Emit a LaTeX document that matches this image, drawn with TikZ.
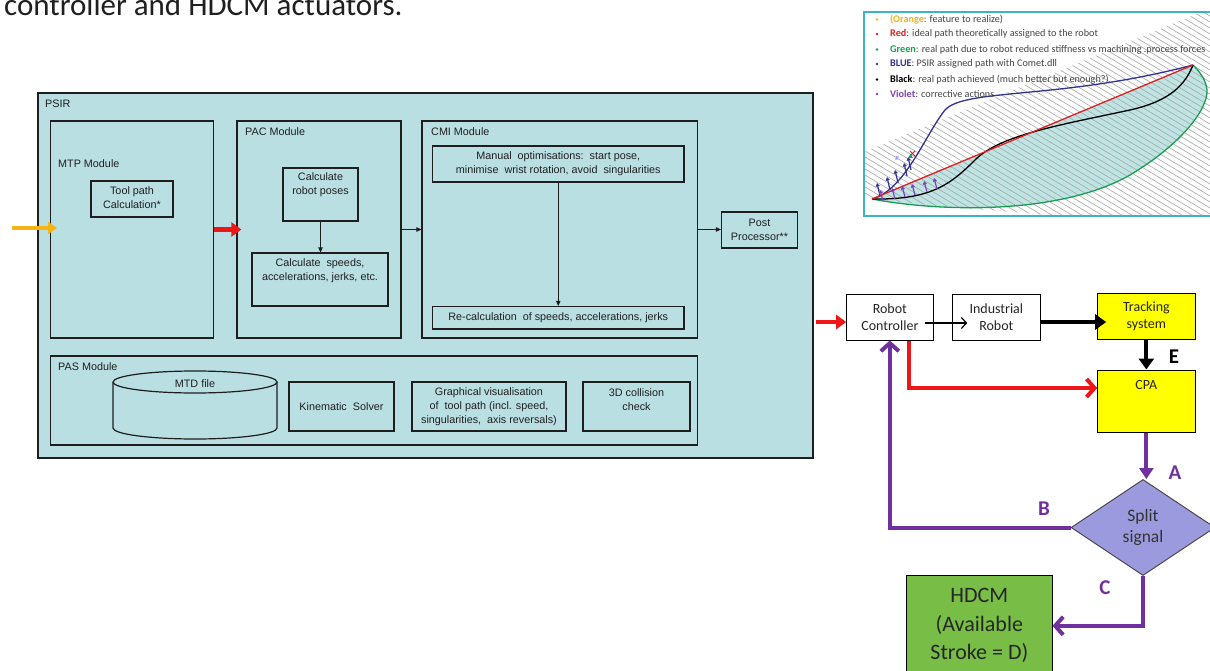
\documentclass[tikz,border=0pt]{standalone}
\usepackage{fontspec}
\setmainfont{Liberation Sans}
\newfontfamily\calfont{Carlito}
\usetikzlibrary{arrows.meta,shapes.geometric,calc}

\definecolor{psirfill}{RGB}{186,223,227}
\definecolor{boxline}{RGB}{30,30,30}
\definecolor{feedorange}{RGB}{244,180,20}
\definecolor{flowred}{RGB}{238,22,22}
\definecolor{flowviolet}{RGB}{112,48,160}
\definecolor{trackyellow}{RGB}{255,255,0}
\definecolor{splitfill}{RGB}{156,154,222}
\definecolor{hdcmgreen}{RGB}{120,190,70}
\definecolor{insetframe}{RGB}{60,180,200}
\definecolor{insetfill}{RGB}{190,228,228}
\definecolor{insettext}{RGB}{70,70,70}
\definecolor{pathred}{RGB}{225,30,30}
\definecolor{pathgreen}{RGB}{20,160,80}
\definecolor{pathblue}{RGB}{50,50,150}
\definecolor{pathviolet}{RGB}{128,64,190}

\begin{document}
\begin{tikzpicture}[x=1pt,y=-1pt,
  mod/.style={draw=boxline, line width=1.2pt, fill=psirfill, inner sep=0pt},
  dtxt/.style={font=\fontsize{10.8}{14}\selectfont, text=black!88, align=center, inner sep=0pt},
  thinarr/.style={draw=boxline, line width=1pt, -{Triangle[length=5pt,width=4.5pt]}},
  flowbox/.style={draw=black, line width=1pt, inner sep=0pt, align=center,
    font=\calfont\fontsize{14}{17}\selectfont, text=black!85},
  flowlbl/.style={font=\calfont\bfseries\fontsize{21}{21}\selectfont, inner sep=0pt},
  fatarr/.style={line width=4pt, -{Triangle[length=11pt,width=15pt]}},
  barbarr/.style={line width=4pt, -{Straight Barb[length=8pt,width=18pt]}},
  legend/.style={anchor=west, inner sep=0pt, font=\calfont\fontsize{10.2}{10.2}\selectfont, text=insettext}
]
\useasboundingbox (0,0) rectangle (1210,671);
\clip (0,0) rectangle (1210,671);

% heading line running off the top edge
\node[anchor=base west, inner sep=0pt, font=\calfont\fontsize{31}{36}\selectfont, text=black!88]
  (heading) at (4,16) {controller and HDCM actuators.};

% ---------------- PSIR block ----------------
\node[mod, minimum width=775pt, minimum height=365pt] (psir) at (425.5,275.5) {};
\node[dtxt, anchor=west] (psirlbl) at (45,104) {PSIR};

% MTP module
\node[mod, minimum width=163pt, minimum height=217pt] (mtp) at (132,229.5) {};
\node[dtxt, anchor=west] (mtplbl) at (58,164) {MTP Module};
\node[mod, minimum width=82pt, minimum height=36pt] (tool) at (132,199) {};
\node[dtxt] (tooltxt) at (132,198) {Tool path\\Calculation*};

% PAC module
\node[mod, minimum width=164pt, minimum height=217pt] (pac) at (319,229.5) {};
\node[dtxt, anchor=west] (paclbl) at (245,131.5) {PAC Module};
\node[mod, minimum width=75pt, minimum height=53pt] (poses) at (320.5,194.5) {};
\node[dtxt] (posestxt) at (320.5,185) {Calculate\\robot poses};
\node[mod, minimum width=136pt, minimum height=53pt] (speeds) at (320,279.5) {};
\node[dtxt] (speedstxt) at (320,271) {Calculate\ \ speeds,\\accelerations, jerks, etc.};

% CMI module
\node[mod, minimum width=275.5pt, minimum height=217pt] (cmi) at (559.75,229.5) {};
\node[dtxt, anchor=west] (cmilbl) at (431,131.5) {CMI Module};
\node[mod, minimum width=251.5pt, minimum height=36pt] (manual) at (558.25,164) {};
\node[dtxt] (manualtxt) at (558.25,164) {Manual\ \ optimisations:\ \ start pose,\\minimise\ \ wrist rotation, avoid\ \ singularities};
\node[mod, minimum width=251.5pt, minimum height=22.5pt] (recalc) at (558.25,317.75) {};
\node[dtxt] (recalctxt) at (558.25,317.75) {Re-calculation\ \ of speeds, accelerations, jerks};

% post processor
\node[mod, minimum width=76pt, minimum height=36pt] (post) at (759.5,230) {};
\node[dtxt] (posttxt) at (759.5,229.5) {Post\\Processor**};

% PAS module
\node[mod, minimum width=647pt, minimum height=89pt] (pas) at (374,400.5) {};
\node[dtxt, anchor=west] (paslbl) at (58,367) {PAS Module};
\draw[boxline, line width=1.2pt, fill=psirfill]
  (113,382) -- (113,428) arc[start angle=180, end angle=0, x radius=82, y radius=11] -- (277,382);
\draw[boxline, line width=1.2pt, fill=psirfill] (195,382) ellipse [x radius=82, y radius=11];
\node[dtxt] (mtd) at (195,384) {MTD file};
\node[mod, minimum width=105pt, minimum height=49pt] (kin) at (341.5,406.5) {};
\node[dtxt] (kintxt) at (341.5,406.5) {Kinematic\ \ Solver};
\node[mod, minimum width=154pt, minimum height=49pt] (graph) at (489,406.5) {};
\node[dtxt] (graphtxt) at (489,407) {Graphical visualisation\\of\ \ tool path (incl. speed,\\singularities,\ \ axis reversals)};
\node[mod, minimum width=107pt, minimum height=49pt] (coll) at (636.5,406.5) {};
\node[dtxt] (colltxt) at (636.5,400) {3D collision\\check};

% connectors inside PSIR
\coordinate (feedin) at (12,228);
\coordinate (feedtip) at (57,228);
\draw[draw=feedorange, line width=3.5pt, -{Triangle[length=9pt,width=12pt]}] (feedin) -- (feedtip);
\draw[draw=flowred, line width=5pt, -{Triangle[length=10pt,width=14pt]}] (mtp.east) -- ([xshift=5pt]pac.west);
\draw[thinarr] (poses.south) -- (poses.south |- speeds.north);
\draw[thinarr] (pac.east) -- (cmi.west);
\draw[thinarr] (manual.south) -- (manual.south |- recalc.north);
\draw[thinarr] (cmi.east) -- (cmi.east -| post.west);

% ---------------- robot loop ----------------
\node[flowbox, fill=white, minimum width=86.3pt, minimum height=46pt] (rc) at (889.85,317) {Robot\\Controller};
\node[flowbox, fill=white, minimum width=87.3pt, minimum height=46pt] (ir) at (996.35,317) {Industrial\\Robot};
\node[flowbox, fill=trackyellow, minimum width=97.3pt, minimum height=46pt] (track) at (1146.35,316) {Tracking\\system};
\node[flowbox, fill=trackyellow, minimum width=97.3pt, minimum height=62pt] (cpa) at (1146.35,401) {};
\node[flowbox, draw=none, fill=none] (cpatxt) at (1146.35,385) {CPA};
\node[draw=black!75, line width=0.9pt, fill=splitfill, diamond, inner sep=0pt,
  minimum width=144pt, minimum height=96pt, align=center,
  font=\calfont\fontsize{17.5}{21.6}\selectfont, text=black!80] (split) at (1143,527.5) {Split\\signal};
\node[flowbox, fill=hdcmgreen, minimum width=145.3pt, minimum height=100.3pt,
  font=\calfont\fontsize{22}{28.5}\selectfont] (hdcm) at (979.35,625.85) {HDCM\\(Available\\Stroke = D)};

\coordinate (psirout) at (816,322);
\draw[draw=flowred, line width=4pt, -{Triangle[length=10pt,width=14pt]}] (psirout) -- (rc.west |- psirout);
\draw[line width=1.2pt, -{Straight Barb[length=5pt,width=11pt]}]
  ($(rc.east)+(-9,6)$) -- ($(ir.west)+(15,6)$);
\draw[fatarr] ($(ir.east)+(0,5)$) -- ($(track.west)+(9,6)$);
\draw[fatarr] (track.south) -- (cpa.north);
\draw[barbarr, draw=flowred] ($(rc.south)+(19,0)$) |- ($(cpa.west)+(0,-13)$);
\draw[draw=flowviolet, line width=4pt, -{Triangle[length=11pt,width=14pt]}] (cpa.south) -- (cpa.south |- split.north);
\draw[barbarr, draw=flowviolet] (split.west) -| (rc.south);
\draw[barbarr, draw=flowviolet] (split.south) |- (hdcm.east);

\node[flowlbl, text=black] (lblE) at (1174,357) {E};
\node[flowlbl, text=flowviolet] (lblA) at (1175,473) {A};
\node[flowlbl, text=flowviolet] (lblB) at (1044,509) {B};
\node[flowlbl, text=flowviolet] (lblC) at (1105,588) {C};

% ---------------- path sketch with legend ----------------
\fill[white] (864,12) rectangle (1230,216);
\fill[insetfill] (872,199) -- (1193,65) .. controls (1200,72) and (1206,80) .. (1207,90)
  .. controls (1208,110) and (1180,145) .. (1130,175)
  .. controls (1060,215) and (940,212) .. (872,199) -- cycle;
\begin{scope}
  \clip (864,12) rectangle (1230,216);
  \clip (864,152) -- (1230,0) -- (1230,216) -- (1060,216) -- (1000,211) -- (940,206)
    -- (872,199) -- (864,199) -- cycle;
  \foreach \c in {400,410,...,1250}
    \draw[gray!70, line width=0.6pt] (\c,-50) -- ++(500,300);
\end{scope}
\draw[pathgreen, line width=1.3pt] (872,199) .. controls (940,212) and (1060,215) .. (1130,175)
  .. controls (1180,145) and (1208,110) .. (1207,90) .. controls (1206,80) and (1200,72) .. (1193,65);
\draw[pathblue, line width=1.3pt] (872,199) .. controls (905,190) and (925,135) .. (945,110)
  .. controls (965,88) and (1060,100) .. (1193,65);
\draw[black, line width=1.3pt] (872,199) .. controls (930,200) and (950,185) .. (975,160)
  .. controls (1000,135) and (1060,125) .. (1130,110) .. controls (1170,101) and (1185,85) .. (1193,65);
\draw[pathred, line width=1.3pt] (872,199) -- (1193,65);
% correction vectors
\foreach \bx/\by in {880/196, 890/190, 898/183, 907/176, 911/170}
  \draw[pathblue, line width=1.2pt, -{Triangle[length=3.5pt,width=4pt]}] (\bx,\by) -- ++(-3,-13);
\foreach \bx/\by in {883/201, 895/199, 905/197, 915/195, 927/192, 937/189}
  \draw[pathviolet, line width=1.2pt, -{Triangle[length=3.5pt,width=4pt]}] (\bx,\by) -- ++(-3,-11);
\node[fill=blue!20, inner sep=0.8pt, font=\calfont\fontsize{4}{4}\selectfont, text=pathblue] (mark1) at (897,158) {1};
\draw[pathred, line width=0.8pt] (910,151) -- (915,156) (915,151) -- (910,156);
\fill[pathgreen] (908,158) -- (913,158) -- (910.5,154) -- cycle;

% legend
\foreach \yy/\cc in {19.5/feedorange, 34/pathred, 49.5/pathgreen, 64/pathblue, 79.5/black, 94/pathviolet}
  \fill[\cc] (877,\yy) circle (1.3);
\node[legend] (leg1) at (890,19.5) {\textcolor{feedorange}{\textbf{(Orange}}: feature to realize)};
\node[legend] (leg2) at (890,34) {\textcolor{pathred}{\textbf{Red}}: ideal path theoretically assigned to the robot};
\node[legend] (leg3) at (890,49.5) {\textcolor{pathgreen}{\textbf{Green}}: real path due to robot reduced stiffness vs machining .process forces};
\node[legend] (leg4) at (890,64) {\textcolor{pathblue}{\textbf{BLUE}}: PSIR assigned path with Comet.dll};
\node[legend] (leg5) at (890,79.5) {\textcolor{black}{\textbf{Black}}: real path achieved (much better but enough?)};
\node[legend] (leg6) at (890,94) {\textcolor{pathviolet}{\textbf{Violet}}: corrective actions};
\draw[insetframe, line width=1.5pt] (864,12) rectangle (1230,216);
\end{tikzpicture}
\end{document}
